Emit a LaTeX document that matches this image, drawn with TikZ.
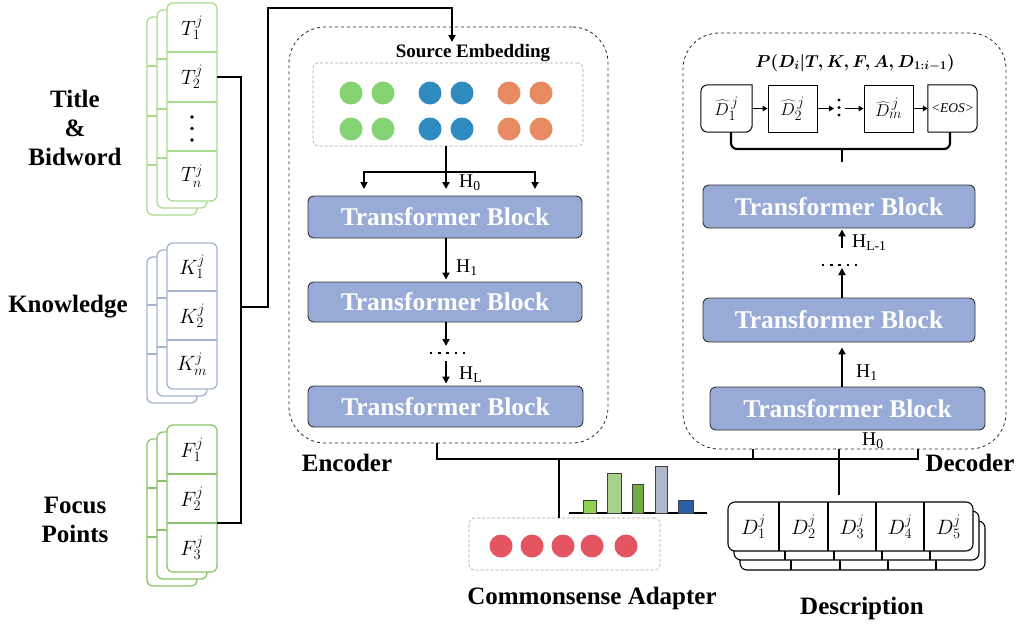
\documentclass[tikz,border=0pt]{standalone}
\usepackage{fontspec}
\setmainfont{Liberation Serif}
\usetikzlibrary{arrows.meta}

\definecolor{tbfill}{RGB}{151,171,214}
\definecolor{titlegreen}{RGB}{170,220,142}
\definecolor{knowblue}{RGB}{164,180,206}
\definecolor{focusgreen}{RGB}{138,196,106}
\definecolor{dotgreen}{RGB}{133,210,114}
\definecolor{dotblue}{RGB}{47,138,191}
\definecolor{dotorange}{RGB}{232,138,98}
\definecolor{dotred}{RGB}{227,85,97}
\definecolor{barA}{RGB}{146,208,80}
\definecolor{barB}{RGB}{169,209,142}
\definecolor{barC}{RGB}{112,173,71}
\definecolor{barD}{RGB}{173,185,202}
\definecolor{barE}{RGB}{46,95,166}

% vertical stack of three cards: colour, top, bottom, divider list
\newcommand\cardstack[4]{%
  \foreach \dx/\dy in {-20/14,-10/7,0/0}{%
    \begin{scope}[shift={(\dx,\dy)}]
      \draw[draw=#1,line width=1.3,fill=white,rounded corners=6] (167,#2) rectangle (217,#3);
      \foreach \yy in {#4} \draw[draw=#1,line width=1.3] (167,\yy) -- (217,\yy);
    \end{scope}}}

% output distribution of the decoder
\newcommand\probtext{{\boldmath$P(D_i\vert T,K,F,A,D_{1:i-1})$}}
% predicted description token
\newcommand\predtok[1]{$\widehat{D}^{\,j}_{#1}$}

\begin{document}
\begin{tikzpicture}[x=1pt,y=-1pt,
  conn/.style={line width=2.2,black},
  arr/.style={conn,-{Triangle[length=7,width=7]}},
  smallarr/.style={line width=1.6,-{Triangle[length=5,width=5.5]}},
  tblock/.style={draw=black!80,fill=tbfill,rounded corners=6,line width=0.9,
    text=white,font=\bfseries\fontsize{25.5}{27}\selectfont,inner sep=0},
  lbl/.style={font=\bfseries\fontsize{25}{29}\selectfont,align=center},
  cellmath/.style={minimum width=50,minimum height=49,inner sep=0,font=\fontsize{20}{20}\selectfont},
  hlab/.style={anchor=west,inner sep=0,font=\fontsize{19.5}{20}\selectfont},
  dashbox/.style={draw=black!85,dashed,line width=0.8,rounded corners=36,inner sep=0},
  embbox/.style={draw=black!35,densely dashed,line width=0.6,rounded corners=5,inner sep=0,fill=white},
  tok/.style={minimum width=49,minimum height=47,inner sep=0,font=\fontsize{19}{19}\selectfont},
  hdots/.style={line width=2.4,dash pattern=on 2.4 off 5.8}
]
\useasboundingbox (0,0) rectangle (1016,624);

% ---------- input stacks ----------
\cardstack{titlegreen}{3}{201}{52,102,151}
\node[cellmath] (T1) at (192,27.5) {$T_1^j$};
\node[cellmath] (T2) at (192,77) {$T_2^j$};
\node[cellmath] (Td) at (192,126.5) {};
\foreach \yy in {117,128.5,140} \fill (Td.center |- 0,\yy) circle (1.8);
\node[cellmath] (Tn) at (192,176) {$T_n^j$};

\cardstack{knowblue}{243}{389}{291,340}
\node[cellmath] (K1) at (192,267) {$K_1^j$};
\node[cellmath] (K2) at (192,315.5) {$K_2^j$};
\node[cellmath] (Km) at (192,364.5) {$K_m^j$};

\cardstack{focusgreen}{425}{572}{474,523}
\node[cellmath] (F1) at (192,449.5) {$F_1^j$};
\node[cellmath] (F2) at (192,498.5) {$F_2^j$};
\node[cellmath] (F3) at (192,547.5) {$F_3^j$};

\node[lbl] (ltitle) at (75,128) {Title\\\&\\Bidword};
\node[lbl] (lknow) at (68,307) {Knowledge};
\node[lbl] (lfocus) at (75,520) {Focus\\Points};

% ---------- encoder ----------
\node[dashbox,minimum width=319,minimum height=416] (enc) at (448.5,235) {};
\node[font=\bfseries\fontsize{19}{19}\selectfont,inner sep=0] (se) at (473,53) {Source Embedding};
\node[embbox,minimum width=270,minimum height=83] (emb) at (448,104.5) {};
\foreach \x in {351,383}{\fill[dotgreen] (\x,93) circle (11.5); \fill[dotgreen] (\x,129) circle (11.5);}
\foreach \x in {430,462}{\fill[dotblue] (\x,93) circle (11.5); \fill[dotblue] (\x,129) circle (11.5);}
\foreach \x in {509,541}{\fill[dotorange] (\x,93) circle (11.5); \fill[dotorange] (\x,129) circle (11.5);}

\node[tblock,minimum width=274,minimum height=42] (eb1) at (445,217) {Transformer Block};
\node[tblock,minimum width=274,minimum height=40] (eb2) at (445,302) {Transformer Block};
\node[tblock,minimum width=275,minimum height=41] (eb3) at (445.5,406.5) {Transformer Block};

\coordinate (split) at (446,172);
\coordinate (inL) at (364,189);
\coordinate (inM) at (446,189);
\coordinate (inR) at (535,189);
\draw[conn] (emb.south -| split) -- (split);
\draw[arr] (split) -| (inL);
\draw[arr] (split) -| (inR);
\draw[arr] (split) -- (inM);
\node[hlab] (eh0) at (459,183) {H\textsubscript{0}};

\draw[arr,shorten >=2] (eb1.south -| split) -- (eb2.north -| split);
\node[hlab] (eh1) at (456,268) {H\textsubscript{1}};
\coordinate (edotsA) at (446,346);
\coordinate (edotsB) at (446,361);
\draw[arr] (eb2.south -| split) -- (edotsA);
\draw[hdots] (430,353) -- (466,353);
\draw[arr,shorten >=2] (edotsB) -- (eb3.north -| split);
\node[hlab] (ehl) at (459,375) {H\textsubscript{L}};
\node[lbl,anchor=center] (lenc) at (347,463) {Encoder};

% ---------- decoder ----------
\node[dashbox,minimum width=323,minimum height=416] (dec) at (844.5,241) {};
\node[inner sep=0,font=\fontsize{16.5}{17}\selectfont] (prob) at (855,63) {\probtext};

\node[tok,minimum width=51] (d1) at (726.5,108.5) {\predtok{1}};
\node[tok,draw,line width=1] (d2) at (792.5,108.5) {\predtok{2}};
\node[tok,draw,line width=1] (dm) at (888.5,108.5) {\predtok{m}};
\node[tok,font=\itshape\fontsize{13.5}{14}\selectfont] (eos) at (952.5,108.5) {<EOS>};
\draw[line width=1] (d1.north east) [rounded corners=7] -- (d1.north west) -- (d1.south west) -- (d1.south east) [sharp corners] -- cycle;
\draw[line width=1] (eos.south west) -- (eos.north west) [rounded corners=7] -- (eos.north east) -- (eos.south east) -- (eos.south west) [sharp corners];
\foreach \yy in {100,107.5,115} \fill (839,\yy) circle (1.6);
\coordinate (colL) at (834,108.5);
\coordinate (colR) at (845,108.5);
\draw[smallarr] (d1.east) -- (d2.west);
\draw[smallarr] (d2.east) -- (colL);
\draw[smallarr] (colR) -- (dm.west);
\draw[smallarr] (dm.east) -- (eos.west);

\coordinate (bxL) at (731,149);
\coordinate (bxR) at (950,149);
\coordinate (bxM) at (842,149);
\coordinate (brace) at (842,162);
\draw[line width=2.2,rounded corners=6] (d1.south -| bxL) -- (bxL) -- (bxR) -- (eos.south -| bxR);
\draw[line width=2.2] (bxM) -- (brace);

\node[tblock,minimum width=272,minimum height=43] (db1) at (839,206.5) {Transformer Block};
\node[tblock,minimum width=272,minimum height=44] (db2) at (839,320) {Transformer Block};
\node[tblock,minimum width=275,minimum height=43] (db3) at (847.5,408.5) {Transformer Block};

\coordinate (dx) at (842,0);
\coordinate (ddotsA) at (842,248);
\coordinate (ddotsB) at (842,268);
\draw[arr,shorten >=1] (ddotsA) -- (db1.south -| dx);
\node[hlab] (dhl) at (852,243) {H\textsubscript{L-1}};
\draw[hdots] (822,265) -- (858,265);
\draw[arr] (db2.north -| dx) -- (ddotsB);
\draw[arr,shorten >=5] (db3.north -| dx) -- (db2.south -| dx);
\node[hlab] (dh1) at (856,373) {H\textsubscript{1}};
\node[hlab] (dh0) at (862,441) {H\textsubscript{0}};
\node[lbl] (ldec) at (970,463) {Decoder};

% ---------- commonsense adapter ----------
\node[embbox,minimum width=191,minimum height=52] (cs) at (564.5,544) {};
\foreach \x in {501,532,563,592,626} \fill[dotred] (\x,546) circle (11.5);
\node[lbl] (lcs) at (592,598) {Commonsense Adapter};
\draw[line width=1.4] (569,513) -- (707,513);
\foreach \xa/\xb/\yt/\cc in {583/596/500/barA,607/621/473/barB,632/643/484/barC,655/667/466/barD,678/693/500/barE}
  \draw[draw=black!75,fill=\cc,line width=1] (\xa,513) rectangle (\xb,\yt);

% ---------- description ----------
\foreach \dx/\dy in {12/19,6/9,0/0}{
  \begin{scope}[shift={(\dx,\dy)}]
    \draw[line width=1.1,fill=white,rounded corners=7] (728,502) rectangle (973,551);
    \foreach \xx in {779,828,876,924} \draw[line width=1.1] (\xx,502) -- (\xx,551);
  \end{scope}}
\node[cellmath] (D1) at (753.5,526.5) {$D_1^j$};
\node[cellmath] (D2) at (803.5,526.5) {$D_2^j$};
\node[cellmath] (D3) at (852,526.5) {$D_3^j$};
\node[cellmath] (D4) at (900,526.5) {$D_4^j$};
\node[cellmath] (D5) at (948.5,526.5) {$D_5^j$};
\node[lbl] (ldesc) at (862,608) {Description};

% ---------- connectors ----------
\coordinate (kjoin) at (241,307);
\coordinate (up) at (268,8);
\coordinate (seIn) at (452,42);
\draw[conn] (T2.east) -| (kjoin) |- (F3.north east);
\draw[arr] (kjoin) -| (up) -| (seIn);

\coordinate (bus) at (437,459);
\coordinate (busA) at (559,459);
\coordinate (busB) at (753,459);
\coordinate (busC) at (839,459);
\coordinate (busD) at (918,459);
\coordinate (descIn) at (839,495);
\draw[conn] (enc.south -| bus) -- (bus) -- (busD) -- (dec.south -| busD);
\draw[conn] (busB) -- (dec.south -| busB);
\draw[conn] (dec.south -| busC) -- (descIn);
\draw[conn] (busA) -- (cs.north -| busA);
\end{tikzpicture}
\end{document}
